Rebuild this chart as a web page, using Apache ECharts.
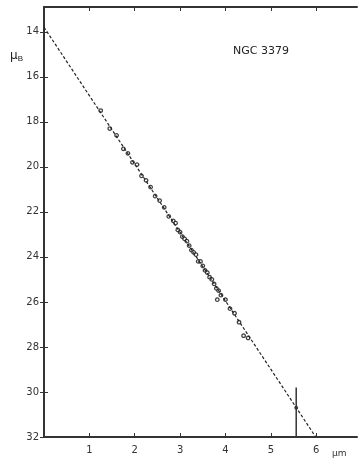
<!DOCTYPE html>
<html>
<head>
<meta charset="utf-8">
<script src="https://cdn.jsdelivr.net/npm/echarts@6/dist/echarts.min.js"></script>
<style>
  html, body { margin: 0; padding: 0; background: #fff; }
  #chart { width: 361px; height: 464px; }
</style>
</head>
<body>
<div id="chart"></div>
<script>
// r^1/4 values of the measured points
const rQuarter = [1.25, 1.45, 1.6, 1.75, 1.85, 1.95, 2.05, 2.15, 2.25, 2.35, 2.45, 2.55, 2.65, 2.75,
  2.85, 2.9, 2.95, 3.0, 3.05, 3.1, 3.15, 3.2, 3.25, 3.3, 3.35, 3.4, 3.45, 3.5, 3.55, 3.6, 3.65,
  3.7, 3.75, 3.8, 3.82, 3.85, 3.9, 4.0, 4.1, 4.2, 4.3, 4.4, 4.5];
// surface brightness mu_B
const muB = [17.5, 18.3, 18.6, 19.2, 19.4, 19.8, 19.9, 20.4, 20.6, 20.9, 21.3, 21.5, 21.8, 22.2,
  22.4, 22.5, 22.8, 22.9, 23.1, 23.2, 23.3, 23.5, 23.7, 23.8, 23.9, 24.2, 24.2, 24.4, 24.6, 24.7, 24.9,
  25.0, 25.2, 25.4, 25.9, 25.5, 25.7, 25.9, 26.3, 26.5, 26.9, 27.5, 27.6];

// dashed r^1/4 law fit
const fitX = [0, 5.99];
const fitMu = [13.8, 32];

// isolated outer point and its vertical marker
const outerX = [5.56];
const outerMu = [30.7];
const markX = [5.56, 5.56];
const markMu = [29.8, 32];

const yTicks = [14, 16, 18, 20, 22, 24, 26, 28, 30, 32];
const xTicks = [1, 2, 3, 4, 5, 6];

const pairs = (xs, ys) => xs.map((x, i) => [x, ys[i]]);

const chart = echarts.init(document.getElementById("chart"));

const axisCol = "#333";
const tickStyle = { show: true, inside: true, length: 4, lineStyle: { color: axisCol, width: 1 } };

chart.setOption({
  animation: false,
  grid: { left: 44, top: 7, right: 4, bottom: 27 },
  xAxis: [
    {
      type: "value", min: 0, max: 6.9, position: "bottom",
      axisLine: { lineStyle: { color: axisCol, width: 2 } },
      axisTick: Object.assign({ customValues: xTicks }, tickStyle),
      axisLabel: { customValues: xTicks, color: "#333", fontSize: 10, fontFamily: "DejaVu Sans", margin: 8 },
      splitLine: { show: false }
    },
    {
      type: "value", min: 0, max: 6.9, position: "top",
      axisLine: { lineStyle: { color: axisCol, width: 2 } },
      axisTick: Object.assign({ customValues: xTicks }, tickStyle),
      axisLabel: { show: false },
      splitLine: { show: false }
    }
  ],
  yAxis: [
    {
      type: "value", inverse: true, min: 12.9, max: 32, position: "left",
      axisLine: { lineStyle: { color: axisCol, width: 2 } },
      axisTick: Object.assign({ customValues: yTicks }, tickStyle),
      axisLabel: { customValues: yTicks, color: "#333", fontSize: 10, fontFamily: "DejaVu Sans", margin: 5 },
      splitLine: { show: false }
    },
    {
      type: "value", inverse: true, min: 12.9, max: 32, position: "right",
      axisLine: { lineStyle: { color: axisCol, width: 2 } },
      axisTick: Object.assign({ customValues: yTicks }, tickStyle),
      axisLabel: { show: false },
      splitLine: { show: false }
    }
  ],
  graphic: [
    {
      type: "text", left: 233, top: 46,
      style: { text: "NGC 3379", font: "11px DejaVu Sans", fill: "#222" }
    },
    {
      type: "text", left: 10, top: 50,
      style: {
        text: "μ{s|B}", fill: "#222", font: "12px DejaVu Sans",
        rich: { s: { fontSize: 8, padding: [6, 0, 0, 0], fill: "#222" } }
      }
    },
    {
      type: "text", left: 332, top: 449,
      style: { text: "μm", font: "9px DejaVu Sans", fill: "#333" }
    }
  ],
  series: [
    {
      type: "line", data: pairs(fitX, fitMu), symbol: "none",
      lineStyle: { color: "#222", width: 1.2, type: [3, 2] }
    },
    {
      type: "scatter", data: pairs(rQuarter, muB), symbol: "circle", symbolSize: 3.5,
      itemStyle: { color: "#fff", borderColor: "#111", borderWidth: 1.3 }
    },
    {
      type: "line", data: pairs(markX, markMu), symbol: "none",
      lineStyle: { color: "#333", width: 1.5 }
    },
    {
      type: "scatter", data: pairs(outerX, outerMu), symbol: "circle", symbolSize: 4,
      itemStyle: { color: "#222" }
    }
  ]
});
</script>
</body>
</html>
